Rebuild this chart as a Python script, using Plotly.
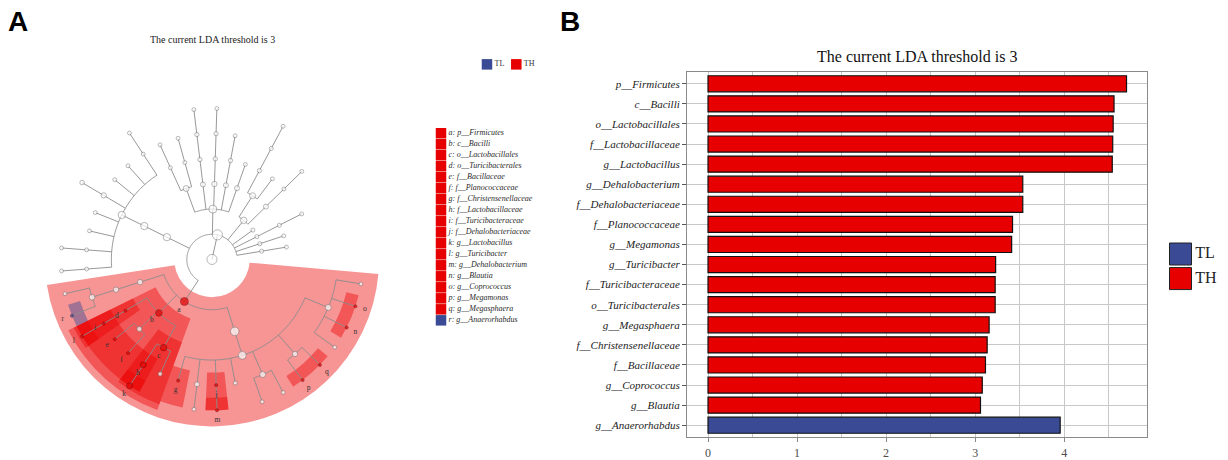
import math
import plotly.graph_objects as go

W, H = 1228, 460
SERIF = "Liberation Serif"
SANS = "Liberation Sans"

# ---------------- LDA scores (panel B) ----------------
taxa = ["p__Firmicutes", "c__Bacilli", "o__Lactobacillales", "f__Lactobacillaceae",
        "g__Lactobacillus", "g__Dehalobacterium", "f__Dehalobacteriaceae", "f__Planococcaceae",
        "g__Megamonas", "g__Turicibacter", "f__Turicibacteraceae", "o__Turicibacterales",
        "g__Megasphaera", "f__Christensenellaceae", "f__Bacillaceae", "g__Coprococcus",
        "g__Blautia", "g__Anaerorhabdus"]
lda_score = [4.70, 4.56, 4.55, 4.545, 4.54, 3.535, 3.535, 3.42, 3.41, 3.23,
             3.225, 3.225, 3.157, 3.135, 3.116, 3.08, 3.06, 3.955]
enriched_in = ["TH"] * 17 + ["TL"]
groups = ["TL", "TH"]
x_ticks = [0, 1, 2, 3, 4]

# ---------------- lettered biomarkers (panel A) ----------------
clade_letter = list("abcdefghijklmnopqr")
clade_taxon = ["p__Firmicutes", "c__Bacilli", "o__Lactobacillales", "o__Turicibacterales",
               "f__Bacillaceae", "f__Planococcaceae", "f__Christensenellaceae",
               "f__Lactobacillaceae", "f__Turicibacteraceae", "f__Dehalobacteriaceae",
               "g__Lactobacillus", "g__Turicibacter", "g__Dehalobacterium", "g__Blautia",
               "g__Coprococcus", "g__Megamonas", "g__Megasphaera", "g__Anaerorhabdus"]
clade_group = ["TH"] * 17 + ["TL"]


def N(name, *kids):
    return (name, list(kids))


# taxonomy tree, leaves listed in drawing order (counter-clockwise)
TREE = N("root", N("k__Bacteria",
    N("p1", N("p1.c1")),
    N("p2", N("p2.c1")),
    N("p3", N("p3.c1", N("p3.o1"))),
    N("p4"),
    N("p5",
      N("p5.c1", N("p5.o1", N("p5.f1"))),
      N("p5.c2", N("p5.o2"), N("p5.o3", N("p5.f2", N("p5.g1"))))),
    N("p6",
      N("p6.c1", N("p6.o1")),
      N("p6.c2", N("p6.o2", N("p6.f1"))),
      N("p6.c3", N("p6.o3", N("p6.f2", N("p6.g1")))),
      N("p6.c4", N("p6.o4", N("p6.f3", N("p6.g2")))),
      N("p6.c5", N("p6.o5", N("p6.f4")), N("p6.o6", N("p6.f5")))),
    N("p7", N("p7.c1", N("p7.o1",
        N("p7.f1", N("p7.g1")), N("p7.f2"), N("p7.f3"), N("p7.f4", N("p7.g2")),
        N("p7.f5"), N("p7.f6"), N("p7.f7", N("p7.g3")), N("p7.f8", N("p7.g4"))))),
    N("p__Firmicutes",
      N("f1.c1", N("f1.o1", N("f1.f1", N("f1.g1"), N("g__Anaerorhabdus")))),
      N("c__Bacilli",
        N("o__Turicibacterales", N("f__Turicibacteraceae", N("g__Turicibacter"))),
        N("f1.o2", N("f__Bacillaceae"), N("f__Planococcaceae")),
        N("o__Lactobacillales", N("f__Lactobacillaceae", N("g__Lactobacillus")), N("f1.f2"))),
      N("f1.c3", N("f1.o3",
        N("f__Christensenellaceae"),
        N("f1.f3", N("f1.g2")),
        N("f__Dehalobacteriaceae", N("g__Dehalobacterium")),
        N("f1.f4"),
        N("f1.f5", N("f1.g3"), N("f1.g4")),
        N("f1.f6", N("g__Megamonas"), N("g__Megasphaera")),
        N("f1.f7", N("f1.g5"), N("g__Blautia"), N("g__Coprococcus"), N("f1.g6")))))))

# relative abundance (%) of clades, sets the node size; others default to 1
ABUND = {"root": 100, "k__Bacteria": 100,
         "p1": 1.2, "p2": 1.2, "p3": 1.2, "p3.c1": 1.2, "p4": 1.2,
         "p5": 9, "p5.c1": 3, "p5.c2": 6.5, "p5.o3": 1.5, "p5.f2": 1.2,
         "p6": 25, "p6.c1": 3, "p6.c2": 3, "p6.c3": 4, "p6.c4": 3, "p6.c5": 6,
         "p6.o2": 1.5, "p6.o3": 1.5, "p6.o4": 1.5, "p6.f2": 1.5, "p6.f3": 1.5,
         "p7": 16, "p7.c1": 16, "p7.o1": 16, "p7.f4": 4, "p7.g2": 2,
         "p__Firmicutes": 25, "f1.c1": 4, "f1.o1": 4, "f1.f1": 5,
         "c__Bacilli": 9.5, "o__Lactobacillales": 9, "f__Lactobacillaceae": 6.5,
         "g__Lactobacillus": 6.5, "f1.o2": 3, "f1.f2": 1.5,
         "f1.c3": 36, "f1.o3": 25, "f1.f3": 3, "f1.f4": 1.3, "f1.f5": 6.5,
         "f1.f6": 4, "f1.f7": 6.5,
         "o__Turicibacterales": 0.15, "f__Turicibacteraceae": 0.15, "g__Turicibacter": 0.15,
         "f__Bacillaceae": 0.15, "f__Planococcaceae": 0.15, "f__Christensenellaceae": 0.15,
         "f__Dehalobacteriaceae": 0.15, "g__Dehalobacterium": 0.15, "g__Megamonas": 0.15,
         "g__Megasphaera": 0.15, "g__Blautia": 0.15, "g__Coprococcus": 0.15,
         "g__Anaerorhabdus": 0.15}

# ---------------- styling ----------------
GROUP_COLOR = {"TL": "#3A4A94", "TH": "#E60000"}
SHADE = {"TL": "rgba(58,74,148,0.45)", "TH": "rgba(236,0,0,0.42)"}
LEAF_START = 9.4      # degrees, first leaf
LEAF_STEP = 8.75      # degrees between neighbouring leaves
OUTER = {2: 6.64, 3: 6.37, 4: 6.13, 5: 6.0, 6: 6.0}   # outer radius of shaded clades
R_MAX = 180 / 25.6

# ---------------- tree layout ----------------
nodes = {}
leaf_idx = [0]


def place(node, level):
    name, kids = node
    if kids:
        info = [place(k, level + 1) for k in kids]
        theta = sum(i[0] for i in info) / len(info)
        lo = min(i[1] for i in info)
        hi = max(i[2] for i in info)
    else:
        theta = LEAF_START + leaf_idx[0] * LEAF_STEP
        leaf_idx[0] += 1
        lo = hi = theta
    nodes[name] = dict(level=level, theta=theta, lo=lo, hi=hi, kids=[k[0] for k in kids])
    return theta, lo, hi


place(TREE, 0)

# branch lines: arc at the parent's radius, radial spokes to the children
lr, lt = [], []
for name, nd in nodes.items():
    if not nd["kids"]:
        continue
    kt = [nodes[k]["theta"] for k in nd["kids"]]
    r0 = nd["level"]
    if len(kt) > 1:
        a0, a1 = min(kt), max(kt)
        n = max(2, int(a1 - a0) + 1)
        for j in range(n + 1):
            lt.append(a0 + (a1 - a0) * j / n)
            lr.append(r0)
        lt.append(None)
        lr.append(None)
    for k in nd["kids"]:
        lt += [nodes[k]["theta"], nodes[k]["theta"], None]
        lr += [r0, nodes[k]["level"], None]

fig = go.Figure()

# shaded clades
marked = sorted(zip(clade_taxon, clade_group, clade_letter), key=lambda t: nodes[t[0]]["level"])
w_theta, w_width, w_base, w_r, w_col = [], [], [], [], []
for tax, grp, _ in marked:
    nd = nodes[tax]
    base = nd["level"] - 0.5
    w_theta.append((nd["lo"] + nd["hi"]) / 2)
    w_width.append(nd["hi"] - nd["lo"] + LEAF_STEP)
    w_base.append(base)
    w_r.append(OUTER[nd["level"]] - base)
    w_col.append(SHADE[grp])
fig.add_trace(go.Barpolar(theta=w_theta, r=w_r, base=w_base, width=w_width,
                          marker=dict(color=w_col, line=dict(width=0)),
                          hoverinfo="skip", showlegend=False))

fig.add_trace(go.Scatterpolar(r=lr, theta=lt, mode="lines",
                              line=dict(color="#8C8C8C", width=0.9),
                              hoverinfo="skip", showlegend=False))

# nodes
grp_of = dict(zip(clade_taxon, clade_group))
nr, nt, ns, nc, nl = [], [], [], [], []
for name, nd in sorted(nodes.items(), key=lambda kv: kv[0] in grp_of):
    ab = ABUND.get(name, 1.0)
    nr.append(nd["level"])
    nt.append(nd["theta"])
    ns.append(2.8 + 1.1 * math.log2(1 + ab))
    if name in grp_of:
        nc.append(GROUP_COLOR[grp_of[name]])
        nl.append("#7A0000" if grp_of[name] == "TH" else "#1E2650")
    else:
        nc.append("white")
        nl.append("#6E6E6E")
fig.add_trace(go.Scatterpolar(r=nr, theta=nt, mode="markers",
                              marker=dict(size=ns, color=nc, line=dict(color=nl, width=0.7)),
                              hoverinfo="skip", showlegend=False))

# clade letters just outside their nodes
fig.add_trace(go.Scatterpolar(r=[nodes[t]["level"] + 0.39 for t in clade_taxon],
                              theta=[nodes[t]["theta"] for t in clade_taxon],
                              mode="text", text=clade_letter,
                              textfont=dict(family=SERIF, size=7.5, color="#333333"),
                              hoverinfo="skip", showlegend=False))

# ---------------- bar chart (panel B) ----------------
fig.add_trace(go.Bar(x=lda_score, y=taxa, orientation="h", width=0.8,
                     marker=dict(color=[GROUP_COLOR[g] for g in enriched_in],
                                 line=dict(color="#111111", width=1.2)),
                     xaxis="x", yaxis="y", hoverinfo="skip", showlegend=False))

# ---------------- lettered key (panel A) ----------------
fig.add_trace(go.Scatter(x=[5] * len(clade_letter), y=list(range(len(clade_letter))),
                         mode="markers+text",
                         marker=dict(symbol="square", size=10.5,
                                     color=[GROUP_COLOR[g] for g in clade_group], line=dict(width=0)),
                         text=[f"<i>{l}: {t}</i>" for l, t in zip(clade_letter, clade_taxon)],
                         textposition="middle right",
                         textfont=dict(family=SERIF, size=8, color="#2A2A2A"),
                         cliponaxis=False, xaxis="x2", yaxis="y2",
                         hoverinfo="skip", showlegend=False))

# small group key (panel A)
fig.add_trace(go.Scatter(x=[0, 1], y=[0, 0], mode="markers+text",
                         marker=dict(symbol="square", size=10.5,
                                     color=[GROUP_COLOR[g] for g in groups], line=dict(width=0)),
                         text=groups, textposition="middle right",
                         textfont=dict(family=SERIF, size=8, color="#333333"),
                         cliponaxis=False, xaxis="x3", yaxis="y3",
                         hoverinfo="skip", showlegend=False))

# group key (panel B)
fig.add_trace(go.Scatter(x=[0, 0], y=[0, 1], mode="markers+text",
                         marker=dict(symbol="square", size=22,
                                     color=[GROUP_COLOR[g] for g in groups],
                                     line=dict(color="#222222", width=1)),
                         text=groups, textposition="middle right",
                         textfont=dict(family=SERIF, size=16, color="#222222"),
                         cliponaxis=False, xaxis="x4", yaxis="y4",
                         hoverinfo="skip", showlegend=False))

hidden = dict(visible=False, showgrid=False, zeroline=False, fixedrange=True)
GRID = "#C8C8C8"

fig.update_layout(
    width=W, height=H, margin=dict(l=0, r=0, t=0, b=0),
    paper_bgcolor="white", plot_bgcolor="white",
    polar=dict(domain=dict(x=[32 / W, 392 / W], y=[16 / H, 376 / H]),
               bgcolor="rgba(0,0,0,0)", barmode="overlay",
               radialaxis=dict(range=[0, R_MAX], visible=False),
               angularaxis=dict(visible=False, direction="counterclockwise", rotation=0)),
    xaxis=dict(domain=[687 / W, 1147 / W], anchor="y", range=[-0.236, 4.93],
               tickvals=x_ticks, ticks="outside", ticklen=4, tickcolor="#888888",
               tickfont=dict(family=SERIF, size=12, color="#4D4D4D"),
               showgrid=True, gridcolor=GRID, gridwidth=1, zeroline=False,
               minor=dict(dtick=0.5, showgrid=True, gridcolor=GRID, gridwidth=1),
               showline=True, mirror=True, linecolor="#8A8A8A", linewidth=1, fixedrange=True),
    yaxis=dict(domain=[15 / H, 387 / H], anchor="x", type="category",
               categoryorder="array", categoryarray=taxa,
               tickmode="array", tickvals=taxa, ticktext=[f"<i>{t}</i>" for t in taxa],
               range=[len(taxa) - 0.4, -0.6],
               ticks="outside", ticklen=4, tickcolor="#555555",
               tickfont=dict(family=SERIF, size=11, color="#222222"),
               showgrid=True, gridcolor=GRID, gridwidth=1, zeroline=False,
               showline=True, mirror=True, linecolor="#8A8A8A", linewidth=1, fixedrange=True),
    xaxis2=dict(domain=[436 / W, 606 / W], anchor="y2", range=[0, 170], **hidden),
    yaxis2=dict(domain=[1 - 331.6 / H, 1 - 130 / H], anchor="x2",
                range=[len(clade_letter) - 0.5, -0.5], **hidden),
    xaxis3=dict(domain=[460 / W, 560 / W], anchor="y3", range=[-0.92, 2.49], **hidden),
    yaxis3=dict(domain=[1 - 75 / H, 1 - 56 / H], anchor="x3", range=[-1, 1], **hidden),
    xaxis4=dict(domain=[1160 / W, 1228 / W], anchor="y4", range=[-20.5, 47.5], **hidden),
    yaxis4=dict(domain=[1 - 300 / H, 1 - 240 / H], anchor="x4", range=[1.66, -0.74], **hidden),
    annotations=[
        dict(text="<b>A</b>", x=6 / W, y=1 - 4 / H, xref="paper", yref="paper",
             xanchor="left", yanchor="top", showarrow=False,
             font=dict(family=SANS, size=28, color="black")),
        dict(text="<b>B</b>", x=558 / W, y=1 - 4 / H, xref="paper", yref="paper",
             xanchor="left", yanchor="top", showarrow=False,
             font=dict(family=SANS, size=28, color="black")),
        dict(text="The current LDA threshold is 3", x=212 / W, y=1 - 40 / H,
             xref="paper", yref="paper", xanchor="center", yanchor="middle", showarrow=False,
             font=dict(family=SERIF, size=10, color="#222222")),
        dict(text="The current LDA threshold is 3", x=917 / W, y=1 - 58 / H,
             xref="paper", yref="paper", xanchor="center", yanchor="middle", showarrow=False,
             font=dict(family=SERIF, size=16, color="#111111")),
    ],
)

fig.write_html("out.html")
